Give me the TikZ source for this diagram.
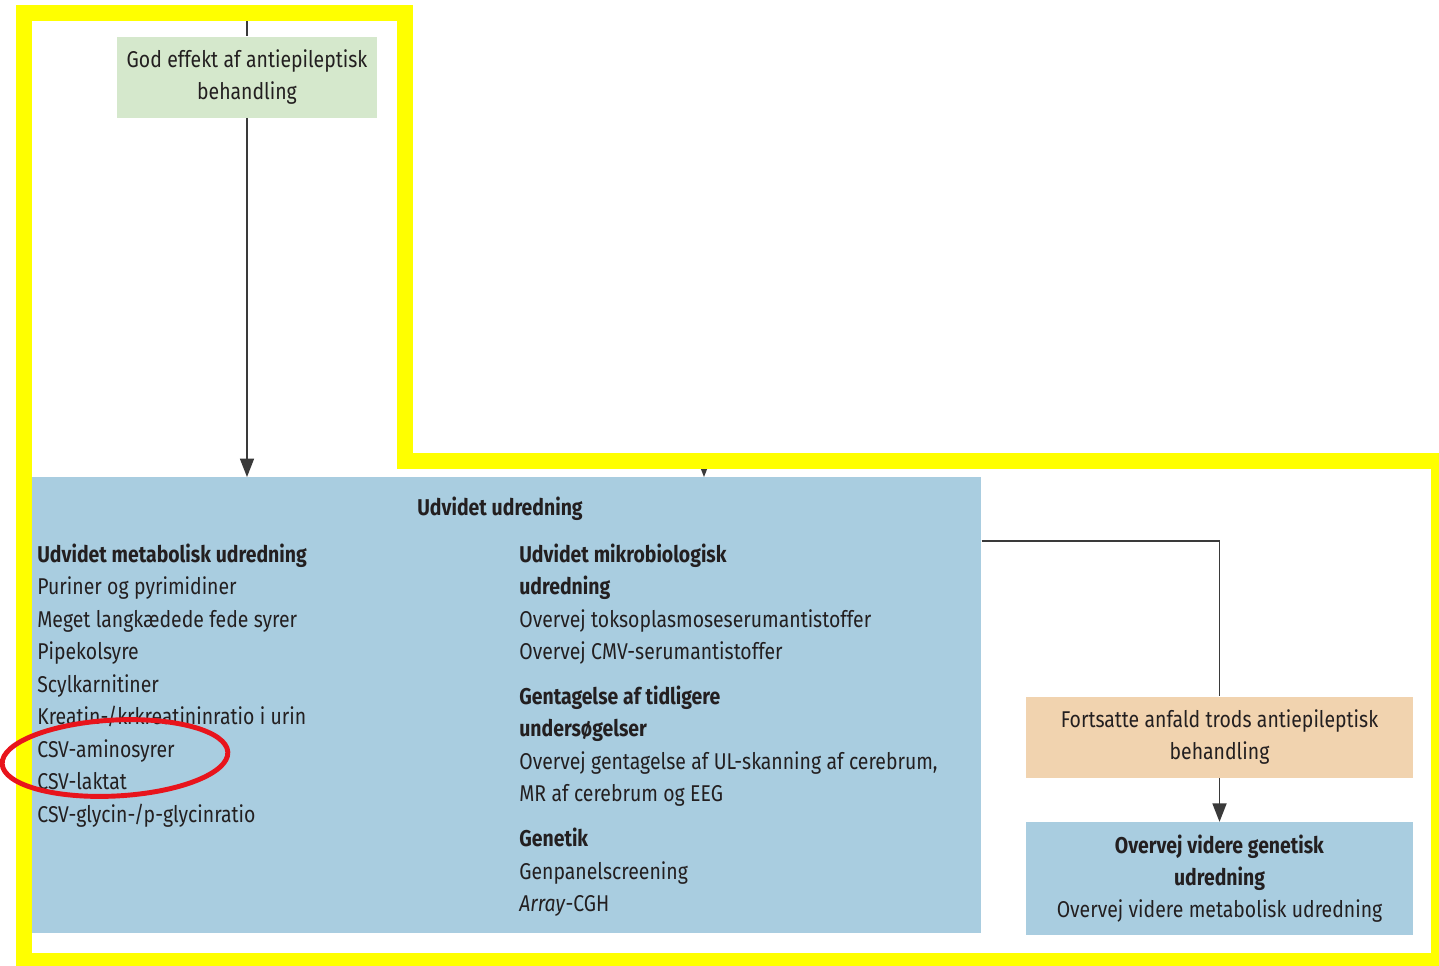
\documentclass[tikz,border=0pt]{standalone}
\usepackage{fontspec}
\setmainfont{Fira Sans}[FakeStretch=0.85,WordSpace=1.05]
\usepackage{tikz}
\usetikzlibrary{arrows.meta,positioning}
\definecolor{Leaf}{HTML}{D5E8CC}
\definecolor{Sky}{HTML}{A9CDE0}
\definecolor{Sand}{HTML}{F1D3AF}
\definecolor{Ink}{HTML}{231F20}
\definecolor{Wire}{HTML}{3A3A3A}
\definecolor{Marker}{HTML}{FFFF00}
\definecolor{Ring}{HTML}{E8141C}

\begin{document}
\begin{tikzpicture}[x=0.02cm,y=-0.02cm,
box/.style={fill=Sky,inner sep=0pt,text=Ink,align=center,font=\fontsize{13}{18.4}\selectfont},
col/.style={inner sep=0pt,text=Ink,text width=9.4cm,align=flush left,font=\fontsize{13}{18.5}\selectfont},
link/.style={line width=0.85pt,draw=Wire},
arr/.style={link,-{Triangle[length=10.5pt,width=8pt]}},
hilite/.style={draw=Marker,line width=0.32cm,miter limit=10},
ring/.style={draw=Ring,line width=2.8pt}]
\useasboundingbox (0,0) rectangle (1439,965);
\node[box,fill=Leaf,minimum width=5.22cm,minimum height=1.62cm] (good) at (247,77) {God effekt af antiepileptisk\\behandling};
\node[box,minimum width=18.98cm,minimum height=9.12cm,anchor=north west] (work) at (32,477) {};
\node[box,fill=none,anchor=base] (worktitle) at (500,515) {\bfseries Udvidet udredning};
\node[col,anchor=base west] (metab) at (37,562) {\textbf{Udvidet metabolisk udredning}\\Puriner og pyrimidiner\\Meget langkædede fede syrer\\Pipekolsyre\\Scylkarnitiner\\Kreatin-/krkreatininratio i urin\\CSV-aminosyrer\\CSV-laktat\\CSV-glycin-/p-glycinratio};
\node[col,anchor=base west] (micro) at (519,562) {\textbf{Udvidet mikrobiologisk}\\\textbf{udredning}\\Overvej toksoplasmoseserumantistoffer\\Overvej CMV-serumantistoffer\\[7pt]\textbf{Gentagelse af tidligere}\\\textbf{undersøgelser}\\Overvej gentagelse af UL-skanning af cerebrum,\\MR af cerebrum og EEG\\[7pt]\textbf{Genetik}\\Genpanelscreening\\\textit{Array}-CGH};
\node[box,fill=Sand,minimum width=7.74cm,minimum height=1.62cm] (fail) at (1219.5,737) {Fortsatte anfald trods antiepileptisk\\behandling};
\node[box,minimum width=7.74cm,minimum height=2.26cm,below=0.88cm of fail] (more) {\textbf{Overvej videre genetisk}\\\textbf{udredning}\\Overvej videre metabolisk udredning};
% connectors
\coordinate (topin) at (247,6);
\coordinate (midin) at (704,458);
\draw[link] (topin) -- (good);
\draw[arr] (good) -- (good |- work.north);
\draw[arr] (midin) -- (midin |- work.north);
\draw[link] ([yshift=-1.28cm]work.north east) -| (fail);
\draw[arr] (fail) -- (more);
% markings
\draw[hilite] (24,13) -- (405,13) -- (405,461) -- (1439,461) -- (1439,961) -- (24,961) -- cycle;
\draw[ring,rotate around={3:(115,758)}] (115,758) ellipse [x radius=2.26cm,y radius=0.76cm];
\end{tikzpicture}
\end{document}
